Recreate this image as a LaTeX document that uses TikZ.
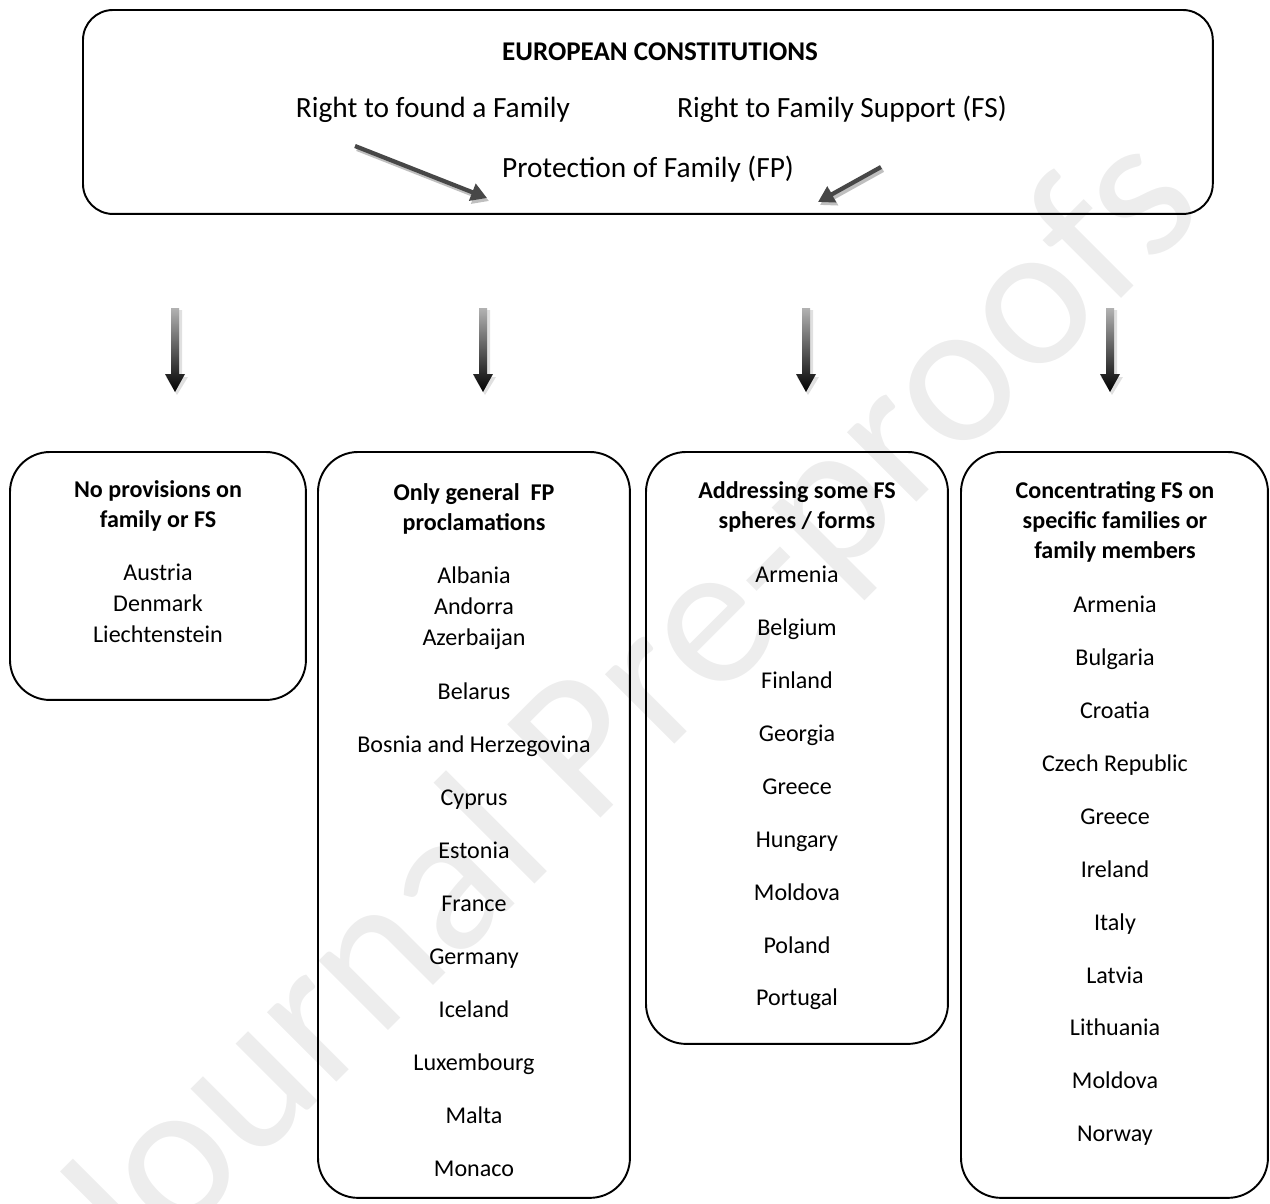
\documentclass[tikz,border=0pt]{standalone}
\usepackage{fontspec}
\setmainfont{Carlito}
\usepackage{tikz}
\usetikzlibrary{arrows.meta}

\begin{document}
\begin{tikzpicture}[x=0.02cm, y=-0.02cm,
		box/.style={draw, line width=1.1pt, rounded corners=0.8cm, anchor=north west, inner sep=0pt, outer sep=0pt},
		txt/.style={font=\fontsize{13.7}{17}\selectfont, text height=9pt, text depth=2.4pt, inner sep=0pt},
		toptxt/.style={font=\fontsize{16.7}{20}\selectfont, text height=11pt, text depth=3pt, inner sep=0pt},
		head/.style={font=\fontsize{13.7}{17}\selectfont\bfseries, align=center, inner sep=0pt},
		slant/.style={draw=black!72, line width=2.4pt, -{Triangle[length=9pt,width=10pt]}},
		slantshadow/.style={draw=black!25, line width=2.4pt, -{Triangle[length=9pt,width=10pt]}}]
				\useasboundingbox (0,0) rectangle (1270,1203);
				
				% watermark
				\node[text=black!7, rotate=45, font=\fontsize{117}{120}\selectfont] (mark) at (630,712) {Journal Pre-proofs};
				
				% top box
				\node[box, rounded corners=0.6cm, minimum width=22.6cm, minimum height=4.08cm] (top) at (83,10) {};
				\node[toptxt, font=\fontsize{15.4}{18}\selectfont\bfseries] (title) at (660,53) {EUROPEAN CONSTITUTIONS};
				\node[toptxt] (found) at (433,110) {Right to found a Family};
				\node[toptxt] (support) at (842,110) {Right to Family Support (FS)};
				\node[toptxt] (protect) at (648,170) {Protection of Family (FP)};
				
				\coordinate (fpl-s) at (355,146);
				\coordinate (fpl-e) at (487,198);
				\coordinate (fpr-s) at (881,167);
				\coordinate (fpr-e) at (818,202);
				\draw[slantshadow] ([shift={(2,3)}]fpl-s) -- ([shift={(2,3)}]fpl-e);
				\draw[slantshadow] ([shift={(2,3)}]fpr-s) -- ([shift={(2,3)}]fpr-e);
				\draw[slant] (fpl-s) -- (fpl-e);
				\draw[slant] (fpr-s) -- (fpr-e);
				
				% gradient arrows
				\foreach \x/\n in
				{175/a, 483/b, 806/c, 1110/d}{
					\coordinate (down-\n) at (\x,308);
					\fill[black!12] (\x-2,310) -- (\x+7,310) -- (\x+7,377) -- (\x+13,377) -- (\x+2,395) -- (\x-9,377) -- (\x-3,377) -- cycle;
					\shade[top color=black!30, bottom color=black] (\x-4,308) -- (\x+4,308) -- (\x+4,374) -- (\x+10,374) -- (\x,392) -- (\x-10,374) -- (\x-4,374) -- cycle;
				}
				
				% bottom boxes
				\node[box, minimum width=5.92cm, minimum height=4.96cm] (nofs) at (10,452) {};
				\node[box, minimum width=6.24cm, minimum height=14.92cm] (general) at (318,452) {};
				\node[box, minimum width=6.04cm, minimum height=11.84cm] (spheres) at (646,452) {};
				\node[box, minimum width=6.14cm, minimum height=14.92cm] (specific) at (961,452) {};
				
				\node[head] (nofs-t) at (158,506) {No provisions on\\family or FS};
				\node[head] (general-t) at (474,509) {Only general~~FP\\proclamations};
				\node[head] (spheres-t) at (797,507) {Addressing some FS\\spheres / forms};
				\node[head] (specific-t) at (1115,522) {Concentrating FS on\\specific families or\\family members};
				
				\foreach \name/\y [count=\i] in
				{Austria/575, Denmark/606, Liechtenstein/637}{
					\node[txt] (nofs-\i) at (158,\y) {\name};
				}
				\foreach \name/\y [count=\i] in
				{Albania/578, Andorra/609, Azerbaijan/640, Belarus/694, Bosnia and Herzegovina/747, Cyprus/800, Estonia/853, France/906, Germany/959, Iceland/1012, Luxembourg/1065, Malta/1118, Monaco/1171}{
					\node[txt] (general-\i) at (474,\y) {\name};
				}
				\foreach \name/\y [count=\i] in
				{Armenia/577, Belgium/630, Finland/683, Georgia/736, Greece/789, Hungary/842, Moldova/895, Poland/948, Portugal/1000}{
					\node[txt] (spheres-\i) at (797,\y) {\name};
				}
				\foreach \name/\y [count=\i] in
				{Armenia/607, Bulgaria/660, Croatia/713, Czech Republic/766, Greece/819, Ireland/872, Italy/925, Latvia/978, Lithuania/1030, Moldova/1083, Norway/1136}{
					\node[txt] (specific-\i) at (1115,\y) {\name};
				}
			\end{tikzpicture}
\end{document}
